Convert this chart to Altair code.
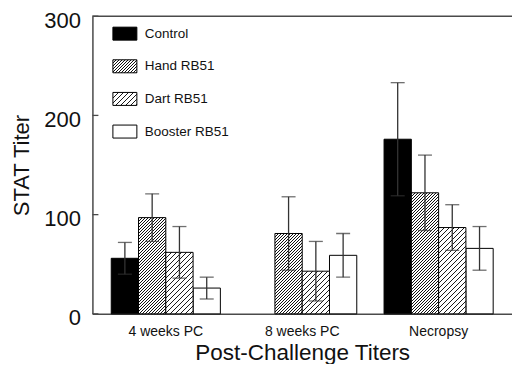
import altair as alt
import pandas as pd

# ---------------- data ----------------
groups = ["4 weeks PC", "8 weeks PC", "Necropsy"]
series = ["Control", "Hand RB51", "Dart RB51", "Booster RB51"]
control = [56, None, 176]
hand = [97, 81, 122]
dart = [62, 43, 87]
booster = [26, 59, 66]
control_err = [16, None, 57]
hand_err = [24, 37, 38]
dart_err = [26, 30, 23]
booster_err = [11, 22, 22]
y_ticks = [0, 100, 200, 300]

means = {"Control": control, "Hand RB51": hand, "Dart RB51": dart, "Booster RB51": booster}
errs = {"Control": control_err, "Hand RB51": hand_err, "Dart RB51": dart_err, "Booster RB51": booster_err}
rows = []
for s in series:
    for g, v, e in zip(groups, means[s], errs[s]):
        if v is None:
            continue
        rows.append({"group": g, "series": s, "value": v, "lo": v - e, "hi": v + e})
df = pd.DataFrame(rows)

# ---------------- layout ----------------
W, H = 420, 298
P_IN, P_OUT = 0.2, 0.138
FONT = "Liberation Sans"
AX = "#4a4a4a"

step = W / (len(groups) - P_IN + 2 * P_OUT)
bar_w = step * (1 - P_IN) / len(series)


def hatch(w, h, period, lw, color="#1a1a1a", bg="white"):
    L = w + h
    k = L / (w * w + h * h)
    stops = []
    i = 0
    while i * period < L:
        a = i * period / L
        b = min((i * period + lw) / L, 1)
        c = min((i + 1) * period / L, 1)
        stops += [
            {"offset": a, "color": color},
            {"offset": b, "color": color},
            {"offset": b, "color": bg},
            {"offset": c, "color": bg},
        ]
        i += 1
    return {"gradient": "linear", "x1": 0, "y1": 0, "x2": k * w, "y2": k * h, "stops": stops}


HATCH = {"Hand RB51": (3.0, 1.0, "#111111"), "Dart RB51": (5.0, 1.5, "#1a1a1a")}

x_axis = alt.Axis(title="Post-Challenge Titers", labelAngle=0, ticks=False, tickSize=0,
                  labelFontSize=14, labelPadding=11, labelColor="#111", labelFont=FONT,
                  titleFontSize=22.5, titleFontWeight="normal", titleFont=FONT, titleColor="#111",
                  titlePadding=3, domainColor=AX, domainWidth=1.5)
y_axis = alt.Axis(title="STAT Titer", values=y_ticks, ticks=False, tickSize=0, grid=False,
                  labelFontSize=22, labelPadding=12, labelOffset=4, labelColor="#111", labelFont=FONT,
                  titleFontSize=22, titleFontWeight="normal", titleFont=FONT, titleColor="#111",
                  titlePadding=10, domainColor=AX, domainWidth=1.5)

xs = alt.Scale(paddingInner=P_IN, paddingOuter=P_OUT)
ys = alt.Scale(domain=[0, 300], nice=False, zero=True)
X = alt.X("group:N", sort=groups, scale=xs, axis=x_axis)
XO = alt.XOffset("series:N", sort=series, scale=alt.Scale(paddingInner=0, paddingOuter=0))

base = alt.Chart(df)
layers = []
layers.append(base.transform_filter(alt.datum.series == "Control").mark_bar(
    fill="black", stroke="black", strokeWidth=1).encode(
    x=X, xOffset=XO, y=alt.Y("value:Q", scale=ys, axis=y_axis)))
layers.append(base.transform_filter(alt.datum.series == "Booster RB51").mark_bar(
    fill="white", stroke="black", strokeWidth=1).encode(
    x=X, xOffset=XO, y=alt.Y("value:Q", scale=ys, axis=y_axis)))
for r in rows:
    if r["series"] in HATCH:
        per, lw, col = HATCH[r["series"]]
        grad = hatch(bar_w, r["value"] * H / 300, per, lw, col)
        layers.append(base.transform_filter(
            (alt.datum.series == r["series"]) & (alt.datum.group == r["group"])).mark_bar(
            fill=grad, stroke="black", strokeWidth=1).encode(
            x=X, xOffset=XO, y=alt.Y("value:Q", scale=ys, axis=y_axis)))

EB = "#333333"
layers.append(base.mark_rule(color=EB, strokeWidth=1.3).encode(
    x=X, xOffset=XO, y=alt.Y("lo:Q", scale=ys, axis=y_axis), y2="hi:Q"))
layers.append(base.mark_tick(color=EB, thickness=1.3, size=14, orient="horizontal").encode(
    x=X, xOffset=XO, y=alt.Y("hi:Q", scale=ys, axis=y_axis)))
layers.append(base.mark_tick(color=EB, thickness=1.3, size=14, orient="horizontal").encode(
    x=X, xOffset=XO, y=alt.Y("lo:Q", scale=ys, axis=y_axis)))

# inward y ticks
tick_df = pd.DataFrame({"t": y_ticks})
layers.append(alt.Chart(tick_df).mark_rule(color=AX, strokeWidth=1.3).encode(
    y=alt.Y("t:Q", scale=ys, axis=y_axis), x=alt.value(0), x2=alt.value(6)))

# top frame line
layers.append(alt.Chart(pd.DataFrame({"a": [0]})).mark_rule(color=AX, strokeWidth=1.5).encode(
    y=alt.value(0), x=alt.value(0), x2=alt.value(W + 10)))

# legend
LEG_Y0, LEG_DY, BOX_W, BOX_H = 17.5, 32.67, 24, 13
for i, s in enumerate(series):
    cy = LEG_Y0 + i * LEG_DY
    if s == "Control":
        fill = "black"
    elif s == "Booster RB51":
        fill = "white"
    else:
        per, lw, col = HATCH[s]
        fill = hatch(BOX_W, BOX_H, per, lw, col)
    ldf = pd.DataFrame({"series": [s]})
    layers.append(alt.Chart(ldf).mark_rect(fill=fill, stroke="black", strokeWidth=1).encode(
        x=alt.value(20.5), x2=alt.value(20.5 + BOX_W),
        y=alt.value(cy - BOX_H / 2), y2=alt.value(cy + BOX_H / 2)))
    layers.append(alt.Chart(ldf).mark_text(align="left", baseline="middle", fontSize=13.5,
                                           font=FONT, color="#111").encode(
        x=alt.value(52.5), y=alt.value(cy), text="series:N"))

chart = alt.layer(*layers).properties(
    width=W, height=H,
    autosize=alt.AutoSizeParams(type="none"),
    padding={"left": 84.5, "top": 8, "right": 0, "bottom": 50},
).configure_view(stroke=None)

chart.save("out.html", embed_options={"renderer": "svg", "actions": False})
